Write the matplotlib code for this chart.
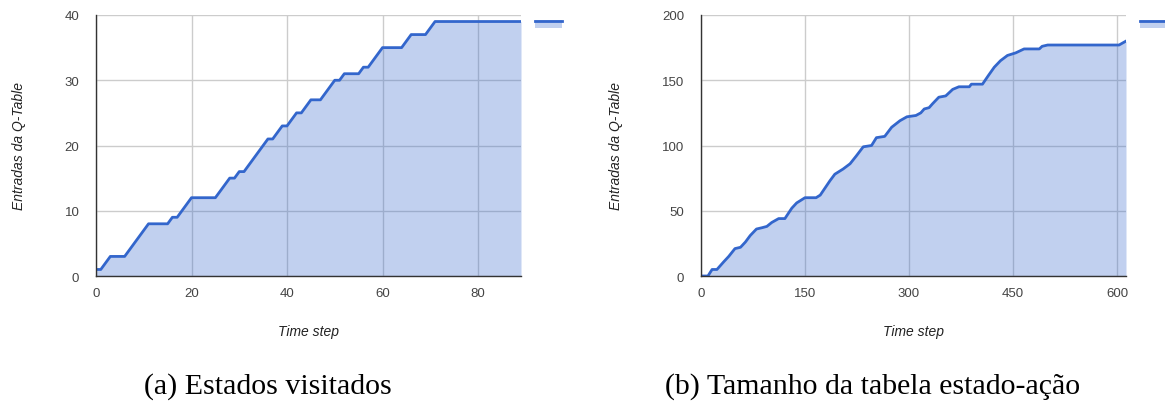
import matplotlib.pyplot as plt
from matplotlib.lines import Line2D
from matplotlib.patches import Rectangle

# (a) states visited per time step: corner points of the step curve
steps_a = [0, 1, 3, 6, 11, 15, 16, 17, 20, 25, 28, 29, 30, 31, 36, 37, 39, 40,
           42, 43, 45, 47, 50, 51, 52, 55, 56, 57, 60, 64, 66, 69, 71, 89]
entries_a = [1, 1, 3, 3, 8, 8, 9, 9, 12, 12, 15, 15, 16, 16, 21, 21, 23, 23,
             25, 25, 27, 27, 30, 30, 31, 31, 32, 32, 35, 35, 37, 37, 39, 39]

# (b) size of the state-action table
steps_b = [0, 10, 16, 23, 33, 40, 49, 57, 64, 71, 80, 88, 95, 102, 112, 121,
           131, 138, 150, 166, 172, 186, 193, 205, 215, 224, 234, 246, 253,
           265, 275, 287, 297, 310, 317, 322, 329, 334, 343, 353, 363, 372,
           387, 390, 406, 415, 423, 432, 442, 454, 466, 488, 492, 500, 603, 613]
entries_b = [0, 0, 5, 5, 11, 15, 21, 22, 26, 31, 36, 37, 38, 41, 44, 44,
             52, 56, 60, 60, 62, 73, 78, 82, 86, 92, 99, 100, 106,
             107, 114, 119, 122, 123, 125, 128, 129, 132, 137, 138, 143, 145,
             145, 147, 147, 154, 160, 165, 169, 171, 174, 174, 176, 177, 177, 180]

panels = [
    dict(x=steps_a, y=entries_a, xlim=89, ylim=40, xticks=[0, 20, 40, 60, 80],
         yticks=[0, 10, 20, 30, 40], caption="(a) Estados visitados", left=96),
    dict(x=steps_b, y=entries_b, xlim=613, ylim=200, xticks=[0, 150, 300, 450, 600],
         yticks=[0, 50, 100, 150, 200], caption="(b) Tamanho da tabela estado-ação", left=701),
]

line_color = "#3366cc"
W, H = 1165, 406
fig = plt.figure(figsize=(W / 100, H / 100), dpi=100)
sans = "Liberation Sans"

for p in panels:
    ax = fig.add_axes([p["left"] / W, (H - 277) / H, 425 / W, 261 / H])
    ax.fill_between(p["x"], p["y"], 0, color=line_color, alpha=0.3, lw=0, zorder=2)
    ax.plot(p["x"], p["y"], color=line_color, lw=2, zorder=3, solid_joinstyle="round")
    ax.set_xlim(0, p["xlim"])
    ax.set_ylim(0, p["ylim"])
    ax.set_xticks(p["xticks"])
    ax.set_yticks(p["yticks"])
    ax.grid(True, color="#cccccc", lw=1, zorder=1)
    ax.set_axisbelow(True)
    for side in ("top", "right"):
        ax.spines[side].set_visible(False)
    for side in ("left", "bottom"):
        ax.spines[side].set_color("#333333")
        ax.spines[side].set_linewidth(1)
        ax.spines[side].set_zorder(4)
    ax.tick_params(length=0, pad=12, labelsize=9.5, labelcolor="#444444")
    ax.tick_params(axis="x", pad=8)
    for lbl in ax.get_xticklabels() + ax.get_yticklabels():
        lbl.set_fontfamily(sans)
    ax.set_xlabel("Time step", fontsize=10, style="italic", family=sans,
                  color="#222222", labelpad=18)
    ax.set_ylabel("Entradas da Q-Table", fontsize=10, style="italic", family=sans,
                  color="#222222", labelpad=28)
    cx = (p["left"] + 212) / W
    fig.text(cx - 40 / W, (H - 387) / H, p["caption"], ha="center", va="center",
             fontsize=21.5, family="Liberation Serif")

    # legend swatch (no label text)
    lx = p["left"] + 439
    fig.add_artist(Rectangle((lx / W, (H - 29) / H), 27 / W, 8 / H,
                             transform=fig.transFigure, color=line_color, alpha=0.3, lw=0))
    fig.add_artist(Line2D([lx / W, (lx + 27) / W], [(H - 21.5) / H] * 2,
                          transform=fig.transFigure, color=line_color, lw=2))

fig.savefig("out.png", dpi=100)
